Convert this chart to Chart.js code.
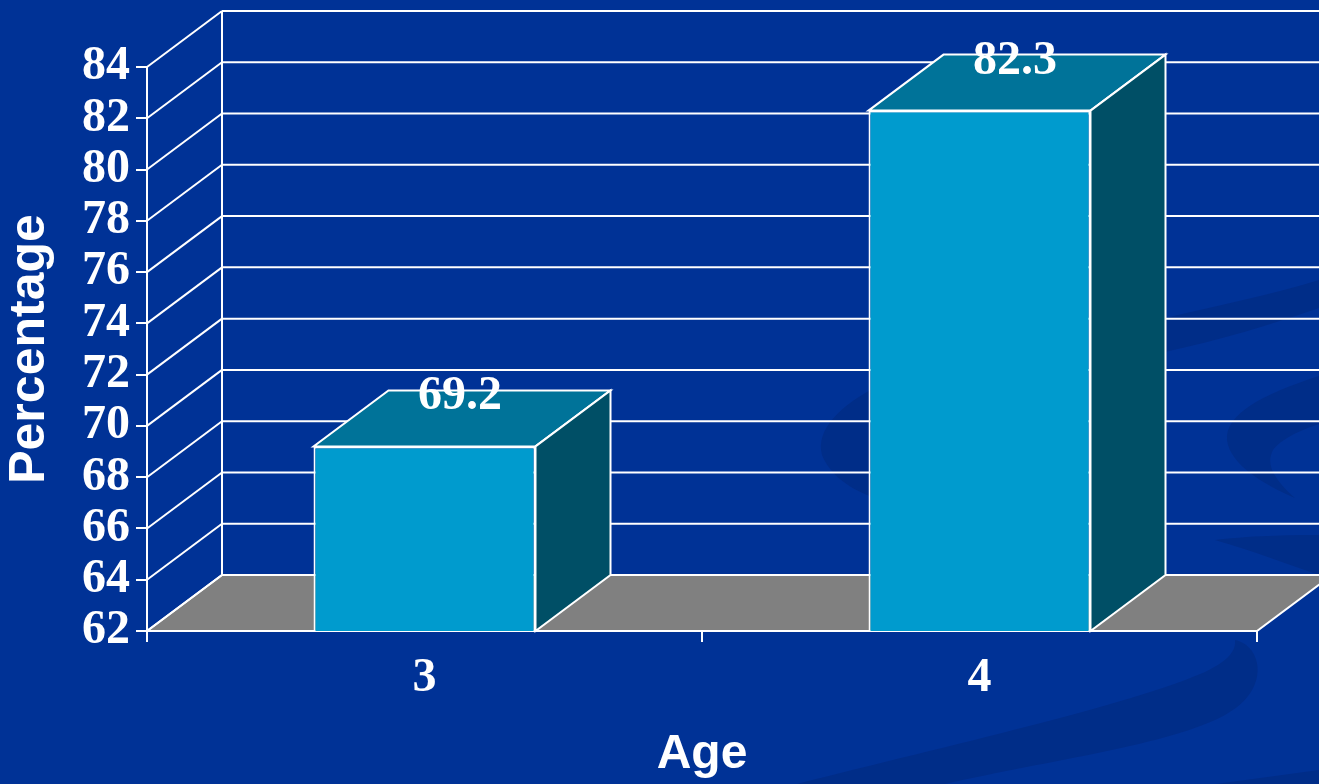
<!DOCTYPE html>
<html>
<head>
<meta charset="utf-8">
<title>Percentage by age</title>
<script src="https://cdn.jsdelivr.net/npm/chart.js@4"></script>
<style>
    html, body { margin: 0; padding: 0; background: #003296; overflow: hidden; }
    canvas { display: block; }
</style>
</head>
<body>
<canvas id="ageChart" width="1319" height="784"></canvas>
<script>
const categories = ['3', '4'];
const percentages = [69.2, 82.3];
const valueLabels = ['69.2', '82.3'];
const yMin = 62;
const yMax = 84;
const yStep = 2;

// 3D 深度
const depthX = 75;
const depthY = -56;

const white = '#ffffff';
const frontColor = '#009bce';
const topColor = '#007399';
const sideColor = '#004f66';
const floorColor = '#808080';
const swirlColor = '#002d88';

// 背景的深色漩渦
function drawSwirls(c) {
    c.fillStyle = swirlColor;
    c.beginPath();
    c.moveTo(1235, 640);
    c.bezierCurveTo(1262, 645, 1272, 690, 1225, 715);
    c.bezierCurveTo(1170, 745, 1050, 760, 945, 784);
    c.lineTo(797, 784);
    c.bezierCurveTo(950, 745, 1130, 705, 1205, 672);
    c.bezierCurveTo(1230, 660, 1236, 650, 1235, 640);
    c.fill();

    c.beginPath();
    c.moveTo(880, 385);
    c.bezierCurveTo(840, 405, 815, 430, 822, 455);
    c.bezierCurveTo(830, 475, 850, 490, 880, 500);
    c.fill();

    c.beginPath();
    c.moveTo(1319, 376);
    c.bezierCurveTo(1260, 395, 1225, 415, 1227, 440);
    c.bezierCurveTo(1230, 465, 1265, 485, 1295, 498);
    c.bezierCurveTo(1275, 480, 1265, 465, 1273, 450);
    c.bezierCurveTo(1280, 440, 1300, 430, 1319, 424);
    c.fill();

    c.beginPath();
    c.moveTo(1165, 318);
    c.bezierCurveTo(1220, 305, 1270, 295, 1319, 280);
    c.lineTo(1319, 308);
    c.bezierCurveTo(1270, 325, 1220, 340, 1165, 352);
    c.fill();

    c.beginPath();
    c.moveTo(1215, 540);
    c.bezierCurveTo(1260, 535, 1295, 535, 1319, 535);
    c.lineTo(1319, 575);
    c.bezierCurveTo(1290, 565, 1250, 550, 1215, 540);
    c.fill();

    c.beginPath();
    c.moveTo(1216, 784);
    c.lineTo(1319, 770);
    c.lineTo(1319, 784);
    c.fill();
}

function segment(c, x1, y1, x2, y2) {
    c.beginPath();
    c.moveTo(x1, y1);
    c.lineTo(x2, y2);
    c.stroke();
}

function polygon(c, pts, fill) {
    c.beginPath();
    pts.forEach((p, i) => i ? c.lineTo(p[0], p[1]) : c.moveTo(p[0], p[1]));
    c.closePath();
    c.fillStyle = fill;
    c.fill();
    c.stroke();
}

const background3d = {
    id: 'background3d',
    beforeDraw(chart) {
        drawSwirls(chart.ctx);
    },
    // 牆面、地板和柱子的頂面、側面
    beforeDatasetsDraw(chart) {
        const c = chart.ctx;
        const area = chart.chartArea;
        const y = chart.scales.y;
        c.save();
        c.strokeStyle = white;
        c.lineWidth = 2;
        c.lineJoin = 'miter';

        const floorY = y.getPixelForValue(yMin);
        polygon(c, [
            [area.left, floorY],
            [area.right, floorY],
            [area.right + depthX, floorY + depthY],
            [area.left + depthX, floorY + depthY]
        ], floorColor);

        y.ticks.forEach(t => {
            const py = y.getPixelForValue(t.value);
            segment(c, area.left, py, area.left + depthX, py + depthY);
            segment(c, area.left + depthX, py + depthY, area.right + depthX, py + depthY);
        });
        segment(c, area.left + depthX, y.getPixelForValue(yMax) + depthY, area.left + depthX, floorY + depthY);

        chart.getDatasetMeta(0).data.forEach(bar => {
            const half = bar.width / 2;
            const l = bar.x - half;
            const r = bar.x + half;
            polygon(c, [
                [l, bar.y],
                [r, bar.y],
                [r + depthX, bar.y + depthY],
                [l + depthX, bar.y + depthY]
            ], topColor);
            polygon(c, [
                [r, bar.y],
                [r + depthX, bar.y + depthY],
                [r + depthX, floorY + depthY],
                [r, floorY]
            ], sideColor);
        });
        c.restore();
    },
    // 數值標籤
    afterDatasetsDraw(chart) {
        const c = chart.ctx;
        c.save();
        c.fillStyle = white;
        c.font = 'bold 48px "Liberation Serif"';
        c.textAlign = 'center';
        c.textBaseline = 'alphabetic';
        chart.getDatasetMeta(0).data.forEach((bar, i) => {
            c.fillText(valueLabels[i], bar.x + depthX / 2 - 2, bar.y - 37);
        });
        c.restore();
    }
};

const ctx = document.getElementById('ageChart');
new Chart(ctx, {
    type: 'bar',
    data: {
        labels: categories,
        datasets: [{
            data: percentages,
            backgroundColor: frontColor,
            borderColor: white,
            borderWidth: 2,
            borderSkipped: false,
            barPercentage: 0.4,
            categoryPercentage: 1
        }]
    },
    plugins: [background3d],
    options: {
        responsive: false,
        animation: false,
        layout: { padding: { top: 67, right: 62 } },
        plugins: {
            legend: { display: false },
            tooltip: { enabled: false }
        },
        scales: {
            x: {
                afterFit: s => { s.height = 153; },
                border: { color: white, width: 2 },
                grid: { drawOnChartArea: false, color: white, lineWidth: 2, tickLength: 11 },
                ticks: {
                    color: white,
                    padding: 8,
                    font: { family: '"Liberation Serif"', weight: 'bold', size: 48 }
                },
                title: {
                    display: true,
                    text: 'Age',
                    color: white,
                    padding: { top: 0, bottom: 0 },
                    font: { family: '"Liberation Sans"', weight: 'bold', size: 48 }
                }
            },
            y: {
                min: yMin,
                max: yMax,
                afterFit: s => { s.width = 147; s.paddingTop = 0; s.paddingBottom = 0; },
                border: { color: white, width: 2 },
                grid: { drawOnChartArea: false, color: white, lineWidth: 2, tickLength: 11 },
                ticks: {
                    stepSize: yStep,
                    autoSkip: false,
                    color: white,
                    padding: 6,
                    font: { family: '"Liberation Serif"', weight: 'bold', size: 48 }
                },
                title: {
                    display: true,
                    text: 'Percentage',
                    color: white,
                    padding: { top: 0, bottom: 0 },
                    font: { family: '"Liberation Sans"', weight: 'bold', size: 50 }
                }
            }
        }
    }
});
</script>
</body>
</html>
